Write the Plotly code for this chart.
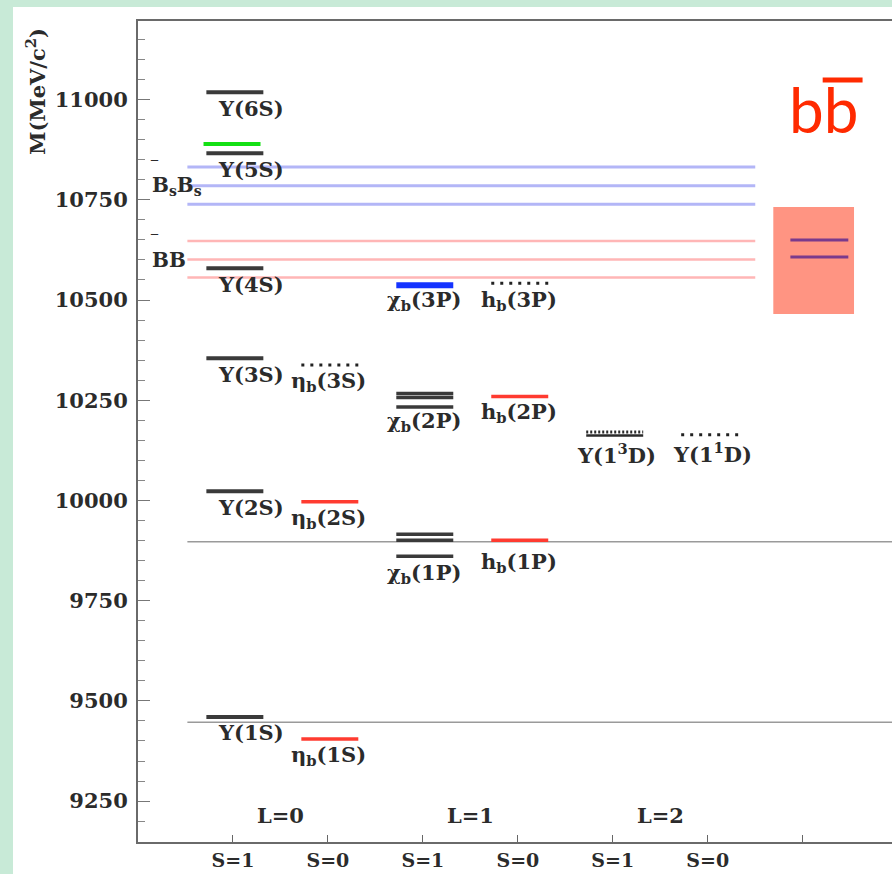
import plotly.graph_objects as go

# ---------------- data ----------------
columns = ["S=1", "S=0", "S=1", "S=0", "S=1", "S=0", " "]
column_pos = [1, 2, 3, 4, 5, 6, 7]
L_labels = ["L=0", "L=1", "L=2"]
L_pos = [1.5, 3.5, 5.5]
y_ticks = [9250, 9500, 9750, 10000, 10250, 10500, 10750, 11000]
y_ticktext = ["9250", "9500", "9750", "10000", "10250", "10500", "10750", "11000"]

upsilon_names = ["Υ(1S)", "Υ(2S)", "Υ(3S)", "Υ(4S)", "Υ(5S)", "Υ(6S)"]
upsilon_mass = [9460, 10023, 10355, 10579, 10866, 11018]
yb_mass = [10889]

etab_names = ["η<sub>b</sub>(1S)", "η<sub>b</sub>(2S)", "η<sub>b</sub>(3S)"]
etab_mass = [9405, 9997, 10338]
etab_observed = [True, True, False]

chib_names = ["χ<sub>b</sub>(1P)", "χ<sub>b</sub>(2P)", "χ<sub>b</sub>(3P)"]
chib_mass = [[9861, 9901, 9916], [10233, 10257, 10267], [10537]]

hb_names = ["h<sub>b</sub>(1P)", "h<sub>b</sub>(2P)", "h<sub>b</sub>(3P)"]
hb_mass = [9901, 10259, 10542]
hb_observed = [True, True, False]

ups13D_name = "Υ(1<sup>3</sup>D)"
ups13D_mass = [10162]
ups13D_pred = [10171]
ups11D_name = "Υ(1<sup>1</sup>D)"
ups11D_mass = [10164]

bsbs_thresholds = [10739, 10785, 10832]
bb_thresholds = [10556, 10601, 10647]
ref_lines = [9447, 9897]
zb_mass = [10607, 10650]
zb_band = [10465, 10732]

# ---------------- styling ----------------
X_MAX = 7.94
Y_MIN, Y_MAX = 9148, 11196
HW = 0.3
DX = 0.02
TXT = "#2b2b2b"
SERIF = "DejaVu Serif"
FS = 21
LBL = dict(family=SERIF, size=FS, color=TXT, weight="bold")

fig = go.Figure()


def hline(x0, x1, m, color, width, dash="solid"):
    fig.add_trace(go.Scatter(x=[x0, x1], y=[m, m], mode="lines",
                             line=dict(color=color, width=width, dash=dash),
                             hoverinfo="skip", showlegend=False))


def level(col, m, color, width, dash="solid", shift=0.0):
    c = col + DX + shift
    hline(c - HW, c + HW, m, color, width, dash)


def label(text, x, m, dy, size=FS):
    f = dict(LBL)
    f["size"] = size
    fig.add_annotation(x=x, y=m, text=text, showarrow=False, xanchor="center",
                       yanchor="middle", yshift=-dy, font=f)


# reference gray lines
for m in ref_lines:
    hline(0.52, X_MAX, m, "#9a9a9a", 1.5)

# thresholds
for m in bsbs_thresholds:
    hline(0.52, 6.5, m, "#b3b6f7", 3)
for m in bb_thresholds:
    hline(0.52, 6.5, m, "#ffb6b6", 2.5)

# Zb band and states
fig.add_shape(type="rect", x0=6.69, x1=7.54, y0=zb_band[0], y1=zb_band[1],
              xref="x", yref="y", fillcolor="#ff9482", line=dict(width=0), layer="below")
for m in zb_mass:
    hline(6.87, 7.48, m, "#7a3a8c", 3)

# L=0, S=1
for n, m in zip(upsilon_names, upsilon_mass):
    level(1, m, "#3a3a3a", 4)
    label(n, 1.19, m, 16)
for m in yb_mass:
    level(1, m, "#14e014", 4, shift=-0.03)

# L=0, S=0
for n, m, ob in zip(etab_names, etab_mass, etab_observed):
    if ob:
        level(2, m, "#ff3b30", 3.5)
    else:
        level(2, m, "#222222", 3, dash="3px,6px")
    label(n, 2.01, m, 17)

# L=1, S=1
for i, (n, ms) in enumerate(zip(chib_names, chib_mass)):
    if len(ms) == 1:
        level(3, ms[0], "#1533ff", 6)
    else:
        for m in ms:
            level(3, m, "#3a3a3a", 3.5)
    label(n, 3.01, min(ms), [17, 14, 15][i])

# L=1, S=0
for i, (n, m, ob) in enumerate(zip(hb_names, hb_mass, hb_observed)):
    if ob:
        level(4, m, "#ff3b30", 3.5)
    else:
        level(4, m, "#222222", 3, dash="3px,6px")
    label(n, 4.01, m, [22, 16, 17][i])

# L=2
for m in ups13D_mass:
    level(5, m, "#2a2a2a", 2.5)
for m in ups13D_pred:
    level(5, m, "#2a2a2a", 3, dash="2px,2px")
label(ups13D_name, 5.04, ups13D_mass[0], 18)
for m in ups11D_mass:
    level(6, m, "#222222", 3, dash="3px,6px")
label(ups11D_name, 6.05, ups11D_mass[0], 18)

# threshold labels
fig.add_annotation(x=0.13, y=bsbs_thresholds[1], text="B<sub>s</sub>B<sub>s</sub>", showarrow=False,
                   xanchor="left", yanchor="middle", font=dict(LBL, size=20))
fig.add_annotation(x=0.13, y=bb_thresholds[1], text="BB", showarrow=False,
                   xanchor="left", yanchor="middle", font=dict(LBL, size=20))
for m in (bsbs_thresholds[1], bb_thresholds[1]):
    fig.add_annotation(x=0.17, y=m, text="‾", showarrow=False, xanchor="center",
                       yanchor="middle", yshift=20, font=dict(family="DejaVu Sans", size=14, color=TXT))

# L labels
for t, x in zip(L_labels, L_pos):
    fig.add_annotation(x=x, y=Y_MIN, text=t, showarrow=False, xanchor="center",
                       yanchor="middle", yshift=27, font=dict(LBL, size=FS))

# b b-bar label
fig.add_annotation(x=7.22, y=10977, text="bb", showarrow=False, xanchor="center",
                   yanchor="middle", font=dict(family="Lato", size=62, color="#ff2a00"))
fig.add_shape(type="line", x0=7.21, x1=7.63, y0=11049, y1=11049, xref="x", yref="y",
              line=dict(color="#ff2a00", width=5))

# y axis title
fig.add_annotation(xref="paper", yref="paper", x=-0.1353, y=0.915, text="M(MeV/c<sup>2</sup>)",
                   textangle=-90, showarrow=False, xanchor="center", yanchor="middle",
                   font=dict(LBL, size=FS))

# green frame around the page
fig.add_shape(type="rect", xref="paper", yref="paper",
              x0=(13 - 138) / 754, x1=1.01, y0=-0.05, y1=(842 - 7) / 821,
              fillcolor="white", line=dict(width=0), layer="below")

fig.update_layout(
    width=892, height=874,
    margin=dict(l=138, r=0, t=21, b=32),
    paper_bgcolor="#c8ead7", plot_bgcolor="rgba(0,0,0,0)",
    showlegend=False,
    xaxis=dict(range=[0, X_MAX], tickvals=column_pos, ticktext=columns,
               ticks="inside", ticklen=7, tickcolor="#666", showgrid=False, zeroline=False,
               showline=True, linecolor="#6a6a6a", linewidth=2, mirror=True,
               tickfont=dict(LBL, size=19)),
    yaxis=dict(range=[Y_MIN, Y_MAX], tickvals=y_ticks, ticktext=y_ticktext,
               ticks="inside", ticklen=12,
               tickcolor="#777", showgrid=False, zeroline=False,
               showline=True, linecolor="#6a6a6a", linewidth=2,
               tickfont=dict(LBL, size=FS), ticklabelstandoff=4,
               minor=dict(dtick=50, ticks="inside", ticklen=7, tickcolor="#888")),
)

fig.write_html("out.html")
